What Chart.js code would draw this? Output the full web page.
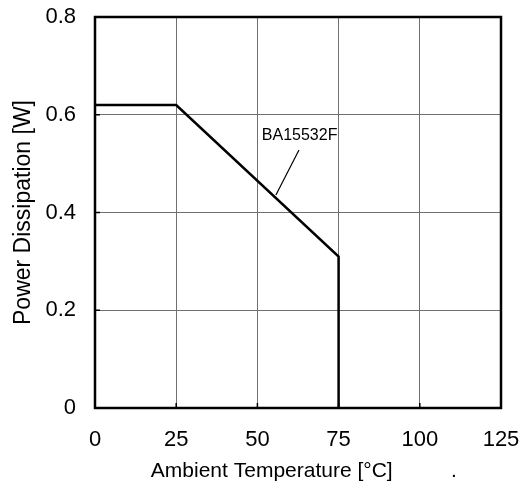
<!DOCTYPE html>
<html>
<head>
<meta charset="utf-8">
<script src="https://cdn.jsdelivr.net/npm/chart.js@4/dist/chart.umd.min.js"></script>
<style>
  html, body { margin: 0; padding: 0; background: #fff; }
  #wrap { width: 522px; height: 488px; }
</style>
</head>
<body>
<div id="wrap"><canvas id="chart"></canvas></div>
<script>
// Данные кривой (температура -> мощность)
const temps = [0, 25, 75, 75];
const power = [0.62, 0.62, 0.31, 0];

// Выноска к подписи
const leaderX = [55.7, 62.8];
const leaderY = [0.436, 0.528];
const labelText = 'BA15532F';
const labelPos = [63, 0.557];

const xTicks = [0, 25, 50, 75, 100, 125];
const yTicks = [0, 0.2, 0.4, 0.6, 0.8];

const FONT = '"Liberation Sans", Arial, sans-serif';

// Рамка, внутренние засечки и подпись
const framePlugin = {
    id: 'frame',
    afterDraw(chart) {
        const ctx = chart.ctx;
        const a = chart.chartArea;
        const xs = chart.scales.x, ys = chart.scales.y;
        ctx.save();
        ctx.strokeStyle = '#000';
        ctx.lineWidth = 1.5;
        xTicks.slice(1, -1).forEach(v => {
            const px = xs.getPixelForValue(v);
            ctx.beginPath();
            ctx.moveTo(px, a.bottom);
            ctx.lineTo(px, a.bottom - 5);
            ctx.stroke();
        });
        yTicks.slice(1, -1).forEach(v => {
            const py = ys.getPixelForValue(v);
            ctx.beginPath();
            ctx.moveTo(a.left, py);
            ctx.lineTo(a.left + 5, py);
            ctx.stroke();
        });
        ctx.lineWidth = 2.5;
        ctx.strokeRect(a.left, a.top, a.right - a.left, a.bottom - a.top);
        ctx.fillStyle = '#000';
        ctx.font = '16px ' + FONT;
        ctx.textAlign = 'center';
        ctx.textBaseline = 'middle';
        ctx.fillText(labelText, xs.getPixelForValue(labelPos[0]), ys.getPixelForValue(labelPos[1]));
        ctx.restore();
    }
};

// Убираем автоматические отступы осей, чтобы область графика задавалась только layout.padding
function noPad(s) {
    s.paddingTop = 0;
    s.paddingBottom = 0;
    s.paddingLeft = 0;
    s.paddingRight = 0;
}

const ctx = document.getElementById('chart').getContext('2d');
const chart = new Chart(ctx, {
    type: 'line',
    data: {
        datasets: [
            {
                data: temps.map((t, i) => ({ x: t, y: power[i] })),
                borderColor: '#000',
                borderWidth: 2.5,
                pointRadius: 0,
                tension: 0
            },
            {
                data: leaderX.map((t, i) => ({ x: t, y: leaderY[i] })),
                borderColor: '#000',
                borderWidth: 1.2,
                pointRadius: 0,
                tension: 0
            }
        ]
    },
    options: {
        responsive: true,
        maintainAspectRatio: false,
        animation: false,
        layout: { padding: { top: 17, right: 21, left: 0, bottom: 0 } },
        plugins: { legend: { display: false }, tooltip: { enabled: false } },
        scales: {
            x: {
                type: 'linear',
                min: 0,
                max: 125,
                afterFit: s => { s.height = 80; noPad(s); },
                afterBuildTicks: s => { s.ticks = xTicks.map(v => ({ value: v })); },
                ticks: {
                    color: '#000',
                    font: { family: FONT, size: 22 },
                    padding: 19
                },
                grid: { color: '#707070', lineWidth: 1, drawTicks: false },
                border: { display: false },
                title: {
                    display: true,
                    text: '  Ambient Temperature [°C]          .',
                    color: '#000',
                    font: { family: FONT, size: 21 },
                    padding: { top: 4, bottom: 4 }
                }
            },
            y: {
                min: 0,
                max: 0.8,
                afterFit: s => { s.width = 95; noPad(s); },
                afterBuildTicks: s => { s.ticks = yTicks.map(v => ({ value: v })); },
                ticks: {
                    color: '#000',
                    font: { family: FONT, size: 22 },
                    padding: 19,
                    callback: v => v === 0 ? '0' : v.toFixed(1)
                },
                grid: { color: '#707070', lineWidth: 1, drawTicks: false },
                border: { display: false },
                title: {
                    display: true,
                    text: 'Power Dissipation [W]',
                    color: '#000',
                    font: { family: FONT, size: 23 },
                    padding: { top: 10, bottom: 0 }
                }
            }
        }
    },
    plugins: [framePlugin]
});
</script>
</body>
</html>
